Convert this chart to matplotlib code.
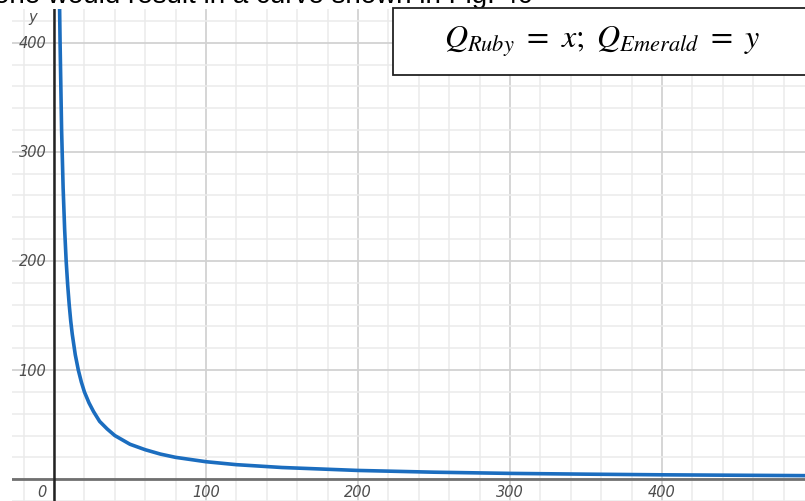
import matplotlib.pyplot as plt
from matplotlib.patches import Rectangle

# Points (Q_Ruby on x, Q_Emerald on y)
q_ruby = [3.6, 4, 5, 6, 7, 8, 9, 10, 11, 12, 14, 16, 18, 20, 23, 26, 30, 35,
          40, 45, 50, 60, 70, 80, 100, 120, 150, 200, 250, 300, 350, 400,
          450, 500]
q_emerald = [440, 400, 320, 267, 229, 200, 178, 160, 145, 133, 114, 100, 89,
             80, 70, 62, 53, 46, 40, 36, 32, 27, 23, 20, 16, 13.3, 10.7, 8,
             6.4, 5.3, 4.6, 4, 3.6, 3.2]

x_ticks = [100, 200, 300, 400]
y_ticks = [100, 200, 300, 400]

W, H = 805, 502
fig = plt.figure(figsize=(W / 100, H / 100), dpi=100)
plt.rcParams['mathtext.fontset'] = 'stix'

# plot area spans from px 12 to the right edge, px 10 to the bottom
ax = fig.add_axes([12 / W, 0, 1 - 12 / W, (H - 10) / H])
x0_px, y0_px = 54, 481
sx, sy = 1.52, 1.093
ax.set_xlim((12 - x0_px) / sx, (W - x0_px) / sx)
ax.set_ylim((y0_px - H) / sy, (y0_px - 10) / sy)

for s in ax.spines.values():
    s.set_visible(False)
ax.set_xticks(range(-20, 500, 20), minor=True)
ax.set_yticks(range(-20, 440, 20), minor=True)
ax.set_xticks(range(0, 500, 100))
ax.set_yticks(range(0, 440, 100))
ax.tick_params(which='both', length=0, labelbottom=False, labelleft=False)
ax.grid(which='minor', color='#ebebeb', lw=1.1)
ax.grid(which='major', color='#d2d2d2', lw=1.3)
ax.set_axisbelow(True)

# axes lines
ax.axhline(0, color='#707070', lw=2, zorder=2)
ax.axvline(0, color='#222222', lw=1.8, zorder=2)
ax.annotate('', xy=(0, 432), xytext=(0, 418),
            arrowprops=dict(arrowstyle='->', color='#222222', lw=1.5,
                            mutation_scale=14), zorder=3)

lab = dict(color='#4d4d4d', fontsize=10.5, style='italic')
for v in x_ticks:
    ax.text(v, -11, str(v), ha='center', va='center', **lab)
ax.text(-8, -11, '0', ha='center', va='center', **lab)
for v in y_ticks:
    ax.text(-5, v, str(v), ha='right', va='center', **lab)
ax.text(-14, 424, 'y', ha='center', va='center', **lab)
ax.text(494, -18, 'x', ha='left', va='center', **lab)

ax.plot(q_ruby, q_emerald, color='#1b6dbf', lw=2.6, zorder=4,
        solid_capstyle='round', solid_joinstyle='round')

# caption line above the graph (cut off at the top edge)
fig.text(-6 / W, 1 - 3 / H, 'one would result in a curve shown in Fig. 4c',
         fontsize=20, family='Liberation Sans', va='baseline', ha='left')

# boxed legend with the variable definitions
fig.patches.append(Rectangle((393 / W, 1 - 76 / H), 420 / W, 67 / H,
                             transform=fig.transFigure, facecolor='white',
                             edgecolor='#222222', lw=1.3, zorder=5))
fig.text(602 / W, 1 - 42 / H, r'$Q_{Ruby}\ =\ x;\ Q_{Emerald}\ =\ y$',
         fontsize=23, ha='center', va='center', zorder=6)

fig.savefig('out.png', dpi=100)
